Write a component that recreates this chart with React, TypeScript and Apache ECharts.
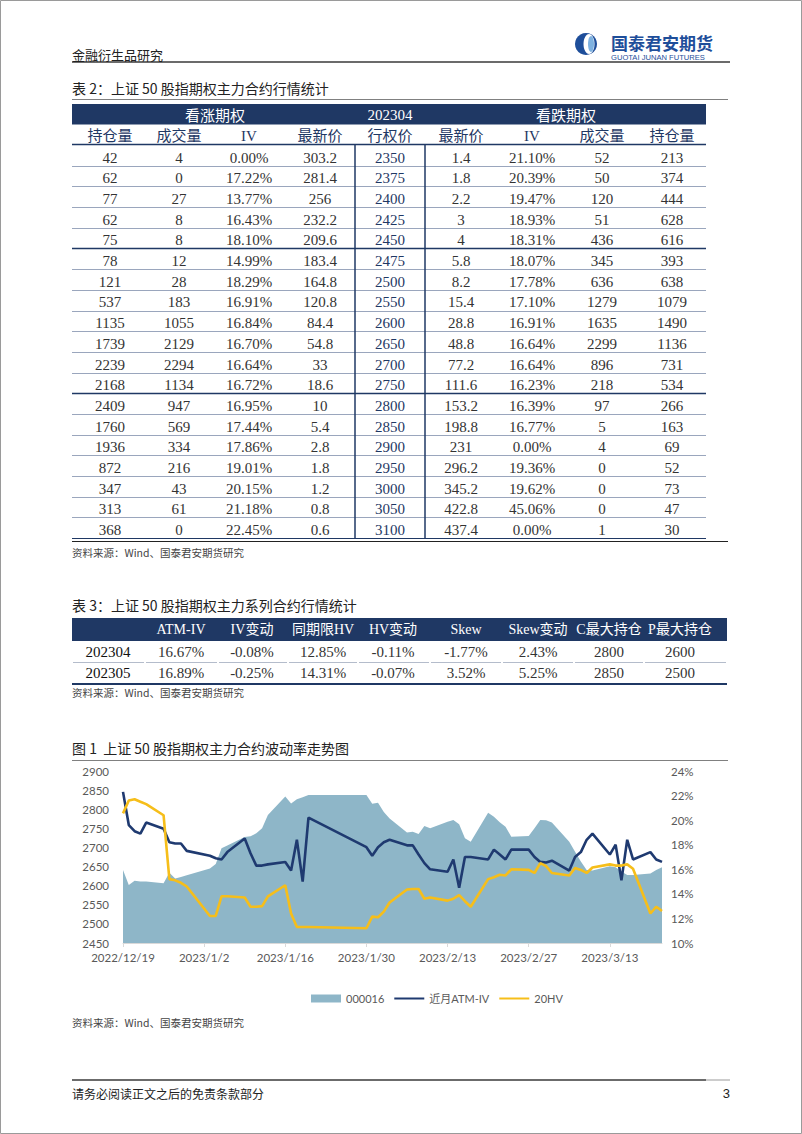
import React, { useEffect, useRef } from "react";
import * as echarts from "echarts";

// ---------- Table 2 data ----------
const t2Strikes = [2350, 2375, 2400, 2425, 2450, 2475, 2500, 2550, 2600, 2650, 2700, 2750, 2800, 2850, 2900, 2950, 3000, 3050, 3100];
const t2CallOI = [42, 62, 77, 62, 75, 78, 121, 537, 1135, 1739, 2239, 2168, 2409, 1760, 1936, 872, 347, 313, 368];
const t2CallVol = [4, 0, 27, 8, 8, 12, 28, 183, 1055, 2129, 2294, 1134, 947, 569, 334, 216, 43, 61, 0];
const t2CallIV = ["0.00%", "17.22%", "13.77%", "16.43%", "18.10%", "14.99%", "18.29%", "16.91%", "16.84%", "16.70%", "16.64%", "16.72%", "16.95%", "17.44%", "17.86%", "19.01%", "20.15%", "21.18%", "22.45%"];
const t2CallPrice = ["303.2", "281.4", "256", "232.2", "209.6", "183.4", "164.8", "120.8", "84.4", "54.8", "33", "18.6", "10", "5.4", "2.8", "1.8", "1.2", "0.8", "0.6"];
const t2PutPrice = ["1.4", "1.8", "2.2", "3", "4", "5.8", "8.2", "15.4", "28.8", "48.8", "77.2", "111.6", "153.2", "198.8", "231", "296.2", "345.2", "422.8", "437.4"];
const t2PutIV = ["21.10%", "20.39%", "19.47%", "18.93%", "18.31%", "18.07%", "17.78%", "17.10%", "16.91%", "16.64%", "16.64%", "16.23%", "16.39%", "16.77%", "0.00%", "19.36%", "19.62%", "45.06%", "0.00%"];
const t2PutVol = [52, 50, 120, 51, 436, 345, 636, 1279, 1635, 2299, 896, 218, 97, 5, 4, 0, 0, 0, 1];
const t2PutOI = [213, 374, 444, 628, 616, 393, 638, 1079, 1490, 1136, 731, 534, 266, 163, 69, 52, 73, 47, 30];
const t2Headers = ["持仓量", "成交量", "IV", "最新价", "行权价", "最新价", "IV", "成交量", "持仓量"];

// ---------- Table 3 data ----------
const t3Headers = ["", "ATM-IV", "IV变动", "同期限HV", "HV变动", "Skew", "Skew变动", "C最大持仓", "P最大持仓"];
const t3Series = ["202304", "202305"];
const t3AtmIV = ["16.67%", "16.89%"];
const t3IVChg = ["-0.08%", "-0.25%"];
const t3HV = ["12.85%", "14.31%"];
const t3HVChg = ["-0.11%", "-0.07%"];
const t3Skew = ["-1.77%", "3.52%"];
const t3SkewChg = ["2.43%", "5.25%"];
const t3CMax = ["2800", "2850"];
const t3PMax = ["2600", "2500"];

// ---------- Figure 1 data ----------
const axisStart = "2022/12/19";
const axisEnd = "2023/3/22";
const tradeDates = [
  "2022/12/19", "2022/12/20", "2022/12/21", "2022/12/22", "2022/12/23", "2022/12/26", "2022/12/27", "2022/12/28", "2022/12/29", "2022/12/30",
  "2023/1/3", "2023/1/4", "2023/1/5", "2023/1/6", "2023/1/9", "2023/1/10", "2023/1/11", "2023/1/12", "2023/1/13", "2023/1/16", "2023/1/17", "2023/1/18", "2023/1/19", "2023/1/20",
  "2023/1/30", "2023/1/31",
  "2023/2/1", "2023/2/2", "2023/2/3", "2023/2/6", "2023/2/7", "2023/2/8", "2023/2/9", "2023/2/10", "2023/2/13", "2023/2/14", "2023/2/15", "2023/2/16", "2023/2/17", "2023/2/20", "2023/2/21", "2023/2/22", "2023/2/23", "2023/2/24", "2023/2/27", "2023/2/28",
  "2023/3/1", "2023/3/2", "2023/3/3", "2023/3/6", "2023/3/7", "2023/3/8", "2023/3/9", "2023/3/10", "2023/3/13", "2023/3/14", "2023/3/15", "2023/3/16", "2023/3/17", "2023/3/20", "2023/3/21", "2023/3/22",
];
const idx000016 = [
  2641, 2602, 2613, 2611, 2611, 2606, 2634, 2619, 2623, 2627,
  2645, 2657, 2698, 2705, 2727, 2729, 2737, 2750, 2785, 2833, 2815, 2826, 2831, 2837,
  2837, 2814,
  2817, 2793, 2776, 2739, 2741, 2735, 2756, 2750, 2767, 2772, 2761, 2724, 2715, 2791, 2780, 2766, 2754, 2728, 2730, 2750,
  2772, 2771, 2765, 2715, 2689, 2663, 2641, 2640, 2651, 2648, 2637, 2628, 2628, 2632, 2641, 2648,
];
const atmIV = [
  22.3, 19.6, 19.1, 18.9, 19.8, 19.3, 18.2, 18.1, 18.1, 17.5,
  17.1, 16.9, 16.8, 17.4, 18.5, 17.3, 16.3, 16.3, 16.4, 16.6, 15.9, 18.4, 15.0, 20.2,
  17.8, 17.1,
  17.8, 18.2, 18.4, 17.95, 17.95, 17.2, 16.5, 16.0, 15.8, 16.8, 14.5, 17.0, 17.0, 16.8, 17.6, 17.2, 16.8, 17.6, 17.6, 17.0,
  16.6, 16.55, 16.7, 15.9, 17.0, 17.4, 18.4, 18.9, 17.2, 18.0, 15.1, 18.4, 16.8, 17.4, 16.8, 16.6,
];
const hv20 = [
  20.55, 21.6, 21.7, 21.5, 21.3, 20.4, 15.2, 15.1, 14.9, 14.6,
  12.2, 12.2, 13.8, 13.8, 13.7, 12.95, 12.95, 13.0, 13.8, 14.7, 12.4, 11.3, 11.3, 11.3,
  11.2, 12.15,
  12.1, 12.55, 13.3, 14.35, 14.4, 14.4, 13.6, 13.7, 13.45, 13.6, 13.9, 13.4, 12.95, 15.2, 15.35, 15.55, 15.5, 16.0, 15.95, 15.7,
  16.5, 16.25, 15.7, 15.5, 16.1, 15.95, 15.7, 16.15, 16.4, 16.3, 16.3, 16.4, 16.05, 12.4, 12.95, 12.6,
];
const leftTicks = { min: 2450, max: 2900, interval: 50 };
const rightTicks = { min: 10, max: 24, interval: 2 };

const NAVY = "#1F3864";
const SERIF = '"Liberation Serif", "Noto Sans CJK SC", serif';
const CJK = '"Noto Sans CJK SC", "Noto Sans", sans-serif';
const CHARTFONT = 'Lato, "Noto Sans CJK SC", sans-serif';

function fmt(d: Date) {
  return `${d.getFullYear()}/${d.getMonth() + 1}/${d.getDate()}`;
}
function calendarDays(start: string, end: string) {
  const [ys, ms, ds] = start.split("/").map(Number);
  const [ye, me, de] = end.split("/").map(Number);
  const out: string[] = [];
  const d = new Date(ys, ms - 1, ds);
  const e = new Date(ye, me - 1, de);
  while (d.getTime() <= e.getTime()) {
    out.push(fmt(d));
    d.setDate(d.getDate() + 1);
  }
  return out;
}

function txt(text: string, x: number, y: number, font: string, fill = "#333", align = "center") {
  return {
    type: "text",
    x,
    y,
    silent: true,
    z: 10,
    style: { text, font, fill, align, verticalAlign: "middle", textAlign: align, textVerticalAlign: "middle" },
  };
}
function ln(x1: number, y1: number, x2: number, y2: number, stroke: string, lineWidth = 1) {
  return { type: "line", silent: true, z: 5, shape: { x1, y1, x2, y2 }, style: { stroke, lineWidth } };
}
function rect(x: number, y: number, width: number, height: number, fill: string) {
  return { type: "rect", silent: true, z: 4, shape: { x, y, width, height }, style: { fill } };
}

function buildGraphics() {
  const g: any[] = [];
  // page frame
  g.push({ type: "rect", silent: true, z: 1, shape: { x: 0.5, y: 0.5, width: 801, height: 1133 }, style: { fill: "none", stroke: "#9a9a9a", lineWidth: 1 } });

  // page header
  g.push(txt("金融衍生品研究", 72, 54, `13px ${CJK}`, "#222", "left"));
  g.push(ln(72, 62, 730, 62, "#3a3a3a", 1.6));
  // logo
  g.push({ type: "circle", silent: true, z: 5, shape: { cx: 586, cy: 44, r: 11 }, style: { fill: "#1E4E9A" } });
  g.push({ type: "ellipse", silent: true, z: 6, shape: { cx: 589, cy: 44, rx: 5.5, ry: 10 }, style: { fill: "#ffffff" } });
  g.push({ type: "ellipse", silent: true, z: 7, shape: { cx: 591, cy: 44, rx: 3, ry: 8 }, style: { fill: "#7FB2E0" } });
  g.push(txt("国泰君安期货", 611, 42, `bold 17px ${CJK}`, "#1E4E9A", "left"));
  g.push(txt("GUOTAI JUNAN FUTURES", 611, 57, `7.6px "Liberation Sans", sans-serif`, "#1E4E9A", "left"));

  // ---------- Table 2 ----------
  g.push(txt("表 2：上证 50 股指期权主力合约行情统计", 72, 88, `14px ${CJK}`, "#222", "left"));
  g.push(ln(72, 99.5, 728, 99.5, "#808080", 1));
  g.push(rect(72, 104, 634, 20.5, NAVY));
  g.push(txt("看涨期权", 215, 114.5, `15px ${CJK}`, "#fff"));
  g.push(txt("202304", 390, 114.5, `15px ${SERIF}`, "#fff"));
  g.push(txt("看跌期权", 566, 114.5, `15px ${CJK}`, "#fff"));
  const cols = [110, 179, 249, 320, 390, 461, 532, 602, 672];
  t2Headers.forEach((h, i) => g.push(txt(h, cols[i], 136, `15px ${SERIF}`, NAVY)));
  g.push(ln(72, 144.5, 706, 144.5, NAVY, 1.5));
  const rowH = 20.69;
  const top = 145;
  t2Strikes.forEach((s, i) => {
    const cy = top + i * rowH + 12.6;
    const vals = [
      String(t2CallOI[i]), String(t2CallVol[i]), t2CallIV[i], t2CallPrice[i], String(s),
      t2PutPrice[i], t2PutIV[i], String(t2PutVol[i]), String(t2PutOI[i]),
    ];
    vals.forEach((v, j) => g.push(txt(v, cols[j], cy, `15px ${SERIF}`, j === 4 ? NAVY : "#333")));
    if (i < t2Strikes.length - 1) {
      const y = Math.round(top + (i + 1) * rowH) + 0.5;
      const dark = i === 4 || i === 11;
      g.push(ln(72, y, 706, y, dark ? NAVY : "#9AA6BD", dark ? 1.5 : 1));
    }
  });
  const bottom2 = Math.round(top + t2Strikes.length * rowH);
  g.push(ln(355, 145, 355, bottom2, NAVY, 1.5));
  g.push(ln(425, 145, 425, bottom2, NAVY, 1.5));
  g.push(ln(72, bottom2 + 0.5, 706, bottom2 + 0.5, NAVY, 1.2));
  g.push(ln(72, bottom2 + 3.5, 728, bottom2 + 3.5, "#222", 1.2));
  g.push(txt("资料来源：Wind、国泰君安期货研究", 72, 552, `10.5px ${CJK}`, "#444", "left"));

  // ---------- Table 3 ----------
  g.push(txt("表 3：上证 50 股指期权主力系列合约行情统计", 72, 605, `14px ${CJK}`, "#222", "left"));
  g.push(rect(72, 618, 655, 23, NAVY));
  const c3 = [108, 181, 252, 323, 393, 466, 538, 609, 680];
  t3Headers.forEach((h, i) => { if (h) g.push(txt(h, c3[i], 629.5, `14px ${SERIF}`, "#fff")); });
  const t3Cols = [t3Series, t3AtmIV, t3IVChg, t3HV, t3HVChg, t3Skew, t3SkewChg, t3CMax, t3PMax];
  t3Series.forEach((_, r) => {
    const cy = 652 + r * 21;
    t3Cols.forEach((col, j) => g.push(txt(col[r], c3[j], cy, `15px ${SERIF}`, j === 0 ? "#111" : "#333")));
  });
  const b3 = [72, 145, 218, 288, 358, 430, 502, 574, 644, 727];
  for (let k = 0; k < b3.length - 1; k++) {
    g.push(ln(b3[k] + 1, 662.5, b3[k + 1] - 1, 662.5, "#B4BCCB", 1));
  }
  g.push(ln(72, 684, 727, 684, NAVY, 2));
  g.push(txt("资料来源：Wind、国泰君安期货研究", 72, 692, `10.5px ${CJK}`, "#444", "left"));

  // ---------- Figure 1 ----------
  g.push(txt("图 1  上证 50 股指期权主力合约波动率走势图", 72, 748, `14px ${CJK}`, "#222", "left"));
  g.push(ln(72, 760.5, 728, 760.5, "#808080", 1));
  g.push(txt("资料来源：Wind、国泰君安期货研究", 72, 1022, `10.5px ${CJK}`, "#444", "left"));

  // footer
  g.push(ln(72, 1080, 706, 1080, "#3a3a3a", 1.6));
  g.push(ln(706, 1080, 730, 1080, "#9a9a9a", 1));
  g.push(txt("请务必阅读正文之后的免责条款部分", 72, 1093, `12px ${CJK}`, "#222", "left"));
  g.push(txt("3", 730, 1093, `13px "Liberation Sans", sans-serif`, "#222", "right"));
  return g;
}

export default function App() {
  const ref = useRef<HTMLDivElement>(null);
  useEffect(() => {
    if (!ref.current) return;
    const chart = echarts.init(ref.current, undefined, { renderer: "svg" });
    const days = calendarDays(axisStart, axisEnd);
    const pos = new Map<string, number>();
    tradeDates.forEach((d, i) => pos.set(d, i));
    const pick = (arr: number[]) => days.map((d) => (pos.has(d) ? arr[pos.get(d)!] : null));

    const option: any = {
      animation: false,
      backgroundColor: "#ffffff",
      grid: { left: 123, right: 140, top: 771, bottom: 191, containLabel: false },
      legend: {
        top: 988,
        left: 306,
        itemWidth: 30,
        itemHeight: 8,
        itemGap: 9,
        textStyle: { fontSize: 11, color: "#595959", fontFamily: CHARTFONT },
        data: [
          { name: "000016", icon: "rect" },
          { name: "近月ATM-IV", itemStyle: { opacity: 0 } },
          { name: "20HV", itemStyle: { opacity: 0 } },
        ],
      },
      xAxis: {
        type: "category",
        data: days,
        boundaryGap: false,
        axisLine: { show: true, lineStyle: { color: "#d9d9d9", width: 1 } },
        axisTick: { show: true, interval: 13, length: 4, lineStyle: { color: "#d9d9d9" } },
        axisLabel: { interval: 13, color: "#595959", fontSize: 11.5, fontFamily: CHARTFONT, margin: 9 },
        splitLine: { show: false },
      },
      yAxis: [
        {
          type: "value",
          min: leftTicks.min,
          max: leftTicks.max,
          interval: leftTicks.interval,
          axisLine: { show: false },
          axisTick: { show: false },
          splitLine: { show: false },
          axisLabel: { color: "#595959", fontSize: 11.5, fontFamily: CHARTFONT, margin: 14, formatter: (v: number) => String(v) },
        },
        {
          type: "value",
          min: rightTicks.min,
          max: rightTicks.max,
          interval: rightTicks.interval,
          position: "right",
          axisLine: { show: false },
          axisTick: { show: false },
          splitLine: { show: false },
          axisLabel: { color: "#595959", fontSize: 11.5, fontFamily: CHARTFONT, margin: 9, formatter: "{value}%" },
        },
      ],
      series: [
        {
          name: "000016",
          type: "line",
          yAxisIndex: 0,
          data: pick(idx000016),
          connectNulls: true,
          showSymbol: false,
          symbol: "none",
          itemStyle: { color: "#8EB6C8" },
          lineStyle: { width: 0, color: "#8EB6C8" },
          areaStyle: { color: "#8EB6C8", opacity: 1, origin: "start" },
          z: 1,
        },
        {
          name: "近月ATM-IV",
          type: "line",
          yAxisIndex: 1,
          data: pick(atmIV),
          connectNulls: true,
          showSymbol: false,
          symbol: "none",
          itemStyle: { color: "#1F3A70" },
          lineStyle: { width: 2.6, color: "#1F3A70" },
          z: 3,
        },
        {
          name: "20HV",
          type: "line",
          yAxisIndex: 1,
          data: pick(hv20),
          connectNulls: true,
          showSymbol: false,
          symbol: "none",
          itemStyle: { color: "#F6BE1A" },
          lineStyle: { width: 2.6, color: "#F6BE1A" },
          z: 4,
        },
      ],
      graphic: { elements: buildGraphics() },
    };
    chart.setOption(option);
    return () => chart.dispose();
  }, []);
  return <div ref={ref} style={{ position: "absolute", left: 0, top: 0, width: 802, height: 1134 }} />;
}
